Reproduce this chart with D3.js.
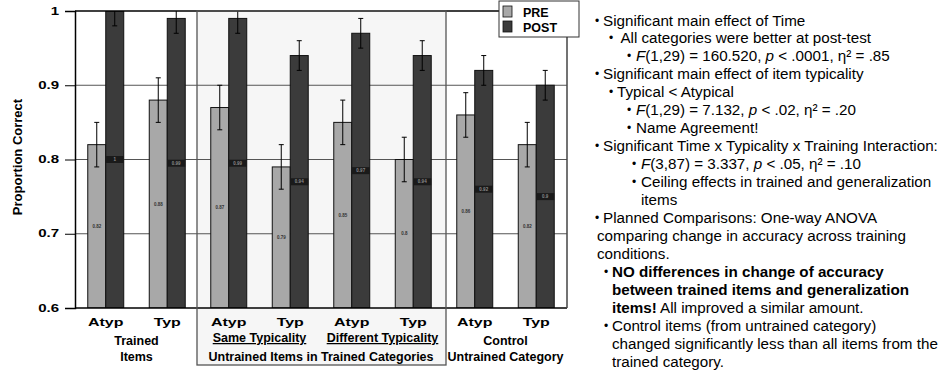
<!DOCTYPE html>
<html lang="en">
<head>
    <meta charset="UTF-8">
    <title>Proportion Correct</title>
    <style>
        body { margin: 0; background: #fff; }
        svg { display: block; font-family: "Liberation Sans", Arial, sans-serif; }
    </style>
</head>
<body>
    <script src="https://d3js.org/d3.v7.min.js"></script>
    <script>
        // data
        const conditions = ["Atyp", "Typ", "Atyp", "Typ", "Atyp", "Typ", "Atyp", "Typ"];
        const preValues  = [0.82, 0.88, 0.87, 0.79, 0.85, 0.80, 0.86, 0.82];
        const postValues = [1.00, 0.99, 0.99, 0.94, 0.97, 0.94, 0.92, 0.90];
        const preErr  = [0.03, 0.03, 0.03, 0.03, 0.03, 0.03, 0.03, 0.03];
        const postErr = [0.02, 0.02, 0.02, 0.02, 0.02, 0.02, 0.02, 0.02];
        const seriesNames = ["PRE", "POST"];
        const yTicks = [0.6, 0.7, 0.8, 0.9, 1];
        const yTitle = "Proportion Correct";

        // group captions under the axis
        const groupCaptions = [
            {from: 0, to: 1, lines: ["Trained", "Items"]},
            {from: 2, to: 3, lines: ["Same Typicality"], underline: true},
            {from: 4, to: 5, lines: ["Different Typicality"], underline: true},
            {from: 2, to: 5, lines: ["", "Untrained Items in Trained Categories"]},
            {from: 6, to: 7, lines: ["Control", "Untrained Category"]}
        ];

        // bullet text on the right
        const notes = [
            {lvl: 1, parts: [["Significant main effect of Time"]]},
            {lvl: 2, parts: [[" All categories were better at post-test"]]},
            {lvl: 3, parts: [["F", "i"], ["(1,29) = 160.520, "], ["p", "i"], [" < .0001, η² = .85"]]},
            {lvl: 1, parts: [["Significant main effect of item typicality"]]},
            {lvl: 2, parts: [["Typical < Atypical"]]},
            {lvl: 3, parts: [["F", "i"], ["(1,29) = 7.132, "], ["p", "i"], [" < .02, η² = .20"]]},
            {lvl: 3, parts: [["Name Agreement!"]]},
            {lvl: 1, parts: [["Significant Time x Typicality x Training Interaction:"]]},
            {lvl: "3b", parts: [["F", "i"], ["(3,87) = 3.337, "], ["p", "i"], [" < .05, η² = .10"]]},
            {lvl: "3b", parts: [["Ceiling effects in trained and generalization"]]},
            {lvl: "3c", parts: [["items"]]},
            {lvl: 1, parts: [["Planned Comparisons: One-way ANOVA"]]},
            {lvl: "1c", parts: [["comparing change in accuracy across training"]]},
            {lvl: "1c", parts: [["conditions."]]},
            {lvl: 4, parts: [["NO differences in change of accuracy", "b"]]},
            {lvl: "4c", parts: [["between trained items and generalization", "b"]]},
            {lvl: "4c", parts: [["items!", "b"], [" All improved a similar amount."]]},
            {lvl: 4, parts: [["Control items (from untrained category)"]]},
            {lvl: "4c", parts: [["changed significantly less than all items from the"]]},
            {lvl: "4c", parts: [["trained category."]]}
        ];

        const width = 940, height = 376;
        const plot = {left: 75, right: 567, top: 11, bottom: 308};
        const boxBottom = 365;

        const svg = d3.select("body").append("svg")
            .attr("width", width)
            .attr("height", height);

        const x = d3.scaleBand()
            .domain(d3.range(conditions.length))
            .range([plot.left, plot.right])
            .paddingInner(0.415)
            .paddingOuter(0.2075);

        const xSeries = d3.scaleBand()
            .domain(seriesNames)
            .range([0, x.bandwidth()]);

        const y = d3.scaleLinear()
            .domain([0.6, 1])
            .range([plot.bottom, plot.top]);

        const colors = {PRE: "#a8a8a8", POST: "#3b3b3b"};

        function stretch(sel, k) {
            sel.each(function() {
                const w = this.getComputedTextLength();
                d3.select(this).attr("textLength", w * k).attr("lengthAdjust", "spacingAndGlyphs");
            });
        }

        // box around the untrained-items groups
        const boxX0 = plot.left + x.step() * 2 - 1;
        const boxX1 = plot.left + x.step() * 6 + 2;
        svg.append("rect")
            .attr("x", boxX0).attr("y", plot.top)
            .attr("width", boxX1 - boxX0).attr("height", boxBottom - plot.top)
            .attr("fill", "#f6f6f6");

        // gridlines
        svg.selectAll(".grid")
            .data(yTicks.filter(d => d > 0.6 && d < 1))
            .enter().append("line")
            .attr("x1", plot.left).attr("x2", plot.right)
            .attr("y1", d => y(d)).attr("y2", d => y(d))
            .style("stroke", "#555").style("stroke-width", 1);

        svg.append("defs").append("clipPath").attr("id", "plotclip")
            .append("rect")
            .attr("x", plot.left).attr("y", plot.top)
            .attr("width", plot.right - plot.left).attr("height", plot.bottom - plot.top);

        const rows = conditions.map((c, i) => ({
            i: i,
            cond: c,
            series: [
                {name: "PRE", v: preValues[i], e: preErr[i]},
                {name: "POST", v: postValues[i], e: postErr[i]}
            ]
        }));

        const groups = svg.append("g").attr("clip-path", "url(#plotclip)")
            .selectAll("g")
            .data(rows)
            .enter().append("g")
            .attr("transform", d => "translate(" + x(d.i) + ",0)");

        const bars = groups.selectAll("g.bar")
            .data(d => d.series)
            .enter().append("g").attr("class", "bar");

        bars.append("rect")
            .attr("x", d => xSeries(d.name))
            .attr("y", d => y(d.v))
            .attr("width", xSeries.bandwidth())
            .attr("height", d => y(0.6) - y(d.v))
            .style("fill", d => colors[d.name])
            .style("stroke", "#111")
            .style("stroke-width", 1);

        // error bars
        const cx = d => xSeries(d.name) + xSeries.bandwidth() / 2;
        bars.append("line")
            .attr("x1", cx).attr("x2", cx)
            .attr("y1", d => y(d.v - d.e)).attr("y2", d => y(d.v + d.e))
            .style("stroke", "#000").style("stroke-width", 1);
        bars.append("line")
            .attr("x1", d => cx(d) - 2.5).attr("x2", d => cx(d) + 2.5)
            .attr("y1", d => y(d.v - d.e)).attr("y2", d => y(d.v - d.e))
            .style("stroke", "#000").style("stroke-width", 1);
        bars.append("line")
            .attr("x1", d => cx(d) - 2.5).attr("x2", d => cx(d) + 2.5)
            .attr("y1", d => y(d.v + d.e)).attr("y2", d => y(d.v + d.e))
            .style("stroke", "#000").style("stroke-width", 1);

        // tiny value labels in the middle of each bar
        const labels = bars.append("g")
            .attr("transform", d => "translate(" + cx(d) + "," + ((y(d.v) + y(0.6)) / 2) + ")");
        labels.filter(d => d.name === "POST").append("rect")
            .attr("x", -xSeries.bandwidth() / 2).attr("y", -3.5)
            .attr("width", xSeries.bandwidth()).attr("height", 7)
            .style("fill", "#1a1a1a");
        labels.append("text")
            .attr("text-anchor", "middle")
            .attr("dy", "0.35em")
            .attr("font-size", "4.5px")
            .attr("font-weight", "bold")
            .style("fill", d => d.name === "POST" ? "#8a8a8a" : "#333")
            .text(d => String(d.v));

        // y axis
        const yAxis = svg.append("g")
            .attr("transform", "translate(" + plot.left + ",0)")
            .call(d3.axisLeft(y).tickValues(yTicks).tickSize(10).tickPadding(6).tickFormat(d => String(d)));
        yAxis.select(".domain").style("stroke", "#000").style("stroke-width", 1.5);
        yAxis.selectAll(".tick line").style("stroke", "#000").style("stroke-width", 1);
        yAxis.selectAll(".tick text")
            .attr("font-size", "10px")
            .attr("font-weight", "bold")
            .attr("font-family", "'Liberation Sans', Arial, sans-serif")
            .style("fill", "#000")
            .call(stretch, 1.5);

        // bottom axis line, top and right borders
        svg.append("line")
            .attr("x1", plot.left).attr("x2", plot.right)
            .attr("y1", plot.bottom).attr("y2", plot.bottom)
            .style("stroke", "#000").style("stroke-width", 1.5);
        svg.append("line")
            .attr("x1", plot.left).attr("x2", plot.right)
            .attr("y1", plot.top).attr("y2", plot.top)
            .style("stroke", "#000").style("stroke-width", 1.5);
        svg.append("line")
            .attr("x1", plot.right).attr("x2", plot.right)
            .attr("y1", plot.top).attr("y2", plot.bottom)
            .style("stroke", "#444").style("stroke-width", 1.5);

        // box outline
        svg.append("rect")
            .attr("x", boxX0).attr("y", plot.top)
            .attr("width", boxX1 - boxX0).attr("height", boxBottom - plot.top)
            .style("fill", "none").style("stroke", "#555").style("stroke-width", 1.3);

        // condition labels (stretched like the original)
        svg.selectAll(".cond")
            .data(rows)
            .enter().append("text")
            .attr("x", d => x(d.i) + x.bandwidth() / 2)
            .attr("y", 326)
            .attr("text-anchor", "middle")
            .attr("font-size", "11px")
            .attr("font-weight", "bold")
            .text(d => d.cond)
            .call(stretch, 1.45);

        // group captions
        groupCaptions.forEach(g => {
            const mid = (x(g.from) + x(g.to) + x.bandwidth()) / 2;
            g.lines.forEach((line, k) => {
                if (!line) return;
                svg.append("text")
                    .attr("x", mid)
                    .attr("y", (g.underline ? 342 : 345) + k * 15.5)
                    .attr("text-anchor", "middle")
                    .attr("font-size", "12.5px")
                    .attr("font-weight", "bold")
                    .style("text-decoration", g.underline ? "underline" : null)
                    .text(line);
            });
        });

        // y title
        svg.append("text")
            .attr("transform", "translate(22,157) rotate(-90)")
            .attr("text-anchor", "middle")
            .attr("font-size", "13px")
            .attr("font-weight", "bold")
            .text(yTitle);

        // legend
        const legend = svg.append("g");
        legend.append("rect")
            .attr("x", 499).attr("y", 1).attr("width", 80).attr("height", 36)
            .style("fill", "#fff").style("stroke", "#333").style("stroke-width", 1);
        seriesNames.forEach((s, k) => {
            legend.append("rect")
                .attr("x", 503).attr("y", 6 + k * 15)
                .attr("width", 9).attr("height", 11)
                .style("fill", colors[s]).style("stroke", "#111").style("stroke-width", 0.8);
            legend.append("text")
                .attr("x", 523).attr("y", 16.5 + k * 15)
                .attr("font-size", "12.5px")
                .attr("font-weight", "bold")
                .text(s);
        });

        // notes on the right: [bullet centre x, text x]
        const levelPos = {
            1: [597, 603], 2: [611, 617], 3: [629, 636], "3b": [634, 641], "3c": [null, 641],
            "1c": [null, 597], 4: [606, 612], "4c": [null, 612]
        };
        const notesG = svg.append("g").attr("font-size", "15.2px").style("fill", "#000");
        notes.forEach((n, k) => {
            const pos = levelPos[n.lvl];
            const base = 25.5 + k * 17.95;
            if (pos[0] !== null) {
                notesG.append("text")
                    .attr("x", pos[0]).attr("y", base - 1)
                    .attr("text-anchor", "middle")
                    .attr("font-size", "12px")
                    .text("•");
            }
            const t = notesG.append("text").attr("x", pos[1]).attr("y", base);
            n.parts.forEach(p => {
                t.append("tspan")
                    .attr("font-style", p[1] === "i" ? "italic" : null)
                    .attr("font-weight", p[1] === "b" ? "bold" : null)
                    .style("white-space", "pre")
                    .text(p[0]);
            });
        });
    </script>
</body>
</html>
